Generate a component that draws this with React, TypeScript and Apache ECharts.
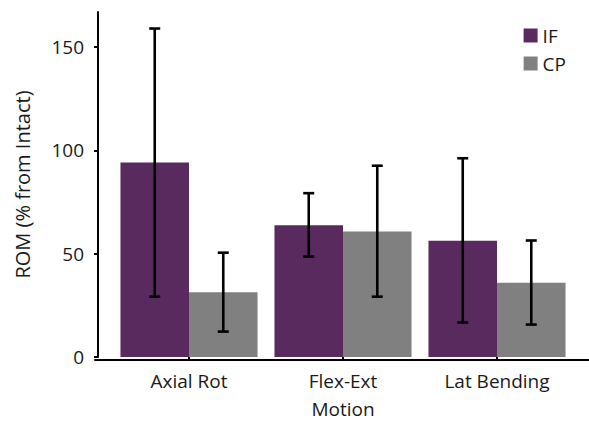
import React, { useEffect, useRef } from "react";
import * as echarts from "echarts";

const categories = ["Axial Rot", "Flex-Ext", "Lat Bending"];
const seriesNames = ["IF", "CP"];
const ifValues = [94.2, 63.8, 56.3];
const cpValues = [31.3, 60.7, 35.9];
const ifErrLow = [29.2, 48.6, 16.7];
const ifErrHigh = [159, 79.3, 96.2];
const cpErrLow = [12.3, 29.2, 15.7];
const cpErrHigh = [50.5, 92.6, 56.4];
const yTicks = [0, 50, 100, 150];

const colors = ["#582a5e", "#808080"];
const FONT = "Open Sans";
const CAT_GAP = 0.11;

export default function App() {
  const ref = useRef<HTMLDivElement>(null);
  useEffect(() => {
    if (!ref.current) return;
    const chart = echarts.init(ref.current, null, { renderer: "svg" });

    const errData = (low: number[], high: number[]) =>
      categories.map((_, i) => [i, low[i], high[i]]);

    const makeRender = (sIdx: number) => (params: any, api: any) => {
      const ci = api.value(0);
      const lo = api.coord([ci, api.value(1)]);
      const hi = api.coord([ci, api.value(2)]);
      const band = api.size([1, 0])[0];
      const bw = (band * (1 - CAT_GAP)) / 2;
      const x = lo[0] + (sIdx === 0 ? -bw / 2 : bw / 2);
      const cap = 5.5;
      const style = { stroke: "#000", lineWidth: 2.6 };
      return {
        type: "group",
        children: [
          { type: "line", shape: { x1: x, y1: hi[1], x2: x, y2: lo[1] }, style },
          { type: "line", shape: { x1: x - cap, y1: hi[1], x2: x + cap, y2: hi[1] }, style },
          { type: "line", shape: { x1: x - cap, y1: lo[1], x2: x + cap, y2: lo[1] }, style },
        ],
      };
    };

    chart.setOption({
      animation: false,
      backgroundColor: "#fff",
      grid: [
        { left: 112, right: 15, top: 12, bottom: 63 },
        { left: 95, right: 0, top: 12, bottom: 63 },
      ],
      legend: {
        data: seriesNames,
        orient: "vertical",
        right: 18,
        top: 21,
        itemWidth: 14,
        itemHeight: 14,
        itemGap: 9,
        icon: "rect",
        textStyle: { fontFamily: FONT, fontSize: 19, color: "#1a1a1a" },
      },
      xAxis: [
        {
          type: "category",
          data: categories,
          gridIndex: 0,
          axisLine: { show: false },
          axisTick: { show: true, alignWithLabel: true, length: 4, lineStyle: { color: "#000", width: 2 } },
          axisLabel: { fontFamily: FONT, fontSize: 19, color: "#1a1a1a", margin: 14 },
          name: "Motion",
          nameLocation: "middle",
          nameGap: 42,
          nameTextStyle: { fontFamily: FONT, fontSize: 19, color: "#1a1a1a" },
        },
        {
          type: "value",
          gridIndex: 1,
          min: 0,
          max: 1,
          axisLine: { show: true, onZero: false, lineStyle: { color: "#000", width: 2 } },
          axisTick: { show: false },
          axisLabel: { show: false },
          splitLine: { show: false },
        },
      ],
      yAxis: [
        {
          type: "value",
          gridIndex: 0,
          min: 0,
          max: 167,
          interval: 50,
          offset: 14,
          axisLine: { show: true, lineStyle: { color: "#000", width: 2 } },
          axisTick: { show: true, length: 4, customValues: yTicks, lineStyle: { color: "#000", width: 2 } },
          axisLabel: { fontFamily: FONT, fontSize: 19, color: "#1a1a1a", margin: 14, customValues: yTicks },
          splitLine: { show: false },
          name: "ROM (% from Intact)",
          nameLocation: "middle",
          nameGap: 66,
          nameTextStyle: { fontFamily: FONT, fontSize: 20, color: "#1a1a1a" },
        },
        { type: "value", gridIndex: 1, show: false },
      ],
      series: [
        {
          name: "IF",
          type: "bar",
          data: ifValues,
          barGap: "0%",
          barCategoryGap: CAT_GAP * 100 + "%",
          itemStyle: { color: colors[0] },
        },
        {
          name: "CP",
          type: "bar",
          data: cpValues,
          barGap: "0%",
          barCategoryGap: CAT_GAP * 100 + "%",
          itemStyle: { color: colors[1] },
        },
        {
          type: "custom",
          name: "IF err",
          renderItem: makeRender(0),
          data: errData(ifErrLow, ifErrHigh),
          encode: { x: 0, y: [1, 2] },
          z: 10,
        },
        {
          type: "custom",
          name: "CP err",
          renderItem: makeRender(1),
          data: errData(cpErrLow, cpErrHigh),
          encode: { x: 0, y: [1, 2] },
          z: 10,
        },
      ],
    });
    return () => chart.dispose();
  }, []);
  return <div ref={ref} style={{ width: 589, height: 423, position: "fixed", left: 0, top: 0 }} />;
}
